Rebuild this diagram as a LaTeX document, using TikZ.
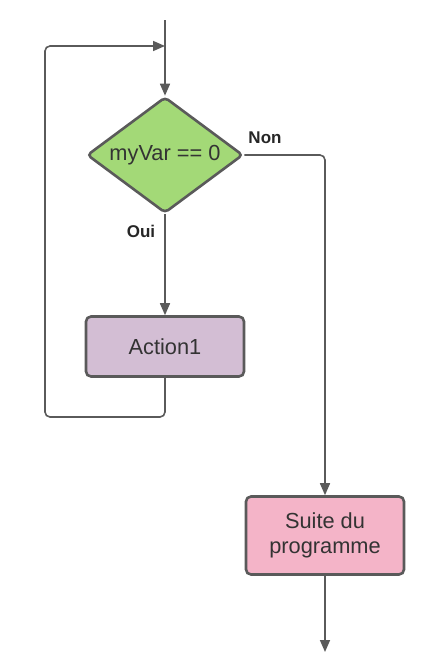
\documentclass[tikz,border=0pt]{standalone}
\usepackage{fontspec}
\setmainfont{Liberation Sans}
\usetikzlibrary{arrows.meta,shapes.geometric}

\definecolor{lineGray}{RGB}{90,90,90}
\definecolor{testGreen}{RGB}{163,217,119}
\definecolor{actionMauve}{RGB}{211,190,212}
\definecolor{suitePink}{RGB}{244,180,200}

\begin{document}
\begin{tikzpicture}[x=1pt, y=-1pt, every node/.style={font=\fontsize{21.8}{25}\selectfont, text=black!80}, >={Triangle[length=12pt, width=10pt]},
	flow/.style={->, draw=lineGray, line width=1.6pt},
	box/.style={draw=lineGray, line width=2.6pt, rounded corners=5pt, minimum width=158pt, align=center, inner sep=0pt},
	test/.style={diamond, draw=lineGray, fill=testGreen, line width=2.6pt, rounded corners=4pt, minimum width=156pt, minimum height=116pt, inner sep=0pt},
	lab/.style={font=\fontsize{17}{19}\selectfont\bfseries, text=black!85}]
	\useasboundingbox (0,0) rectangle (426,664);
	% nodes
	\node[test] (cond) at (165,155) {\makebox[0pt]{myVar == 0}};
	\node[box, fill=actionMauve, minimum height=60pt] (act) at (165,346.5) {Action1};
	\node[box, fill=suitePink, minimum height=78pt] (suite) at (325,535.5) {Suite du\\programme};
	\coordinate (start) at (165,20);
	\coordinate (merge) at (165,46);
	\coordinate (stop) at (325,652);
	% connectors
	\draw[flow] (start) -- (cond.north);
	\draw[flow] (cond.south) -- (act.north);
	\draw[flow, rounded corners=5pt] (act.south) -- (165,417) -| (45,46) -- (merge);
	\draw[flow, rounded corners=5pt] (cond.east) -| (suite.north);
	\draw[flow] (suite.south) -- (stop);
	% labels
	\node[lab] (non) at (265,138) {Non};
	\node[lab] (oui) at (141,231) {Oui};
\end{tikzpicture}
\end{document}
